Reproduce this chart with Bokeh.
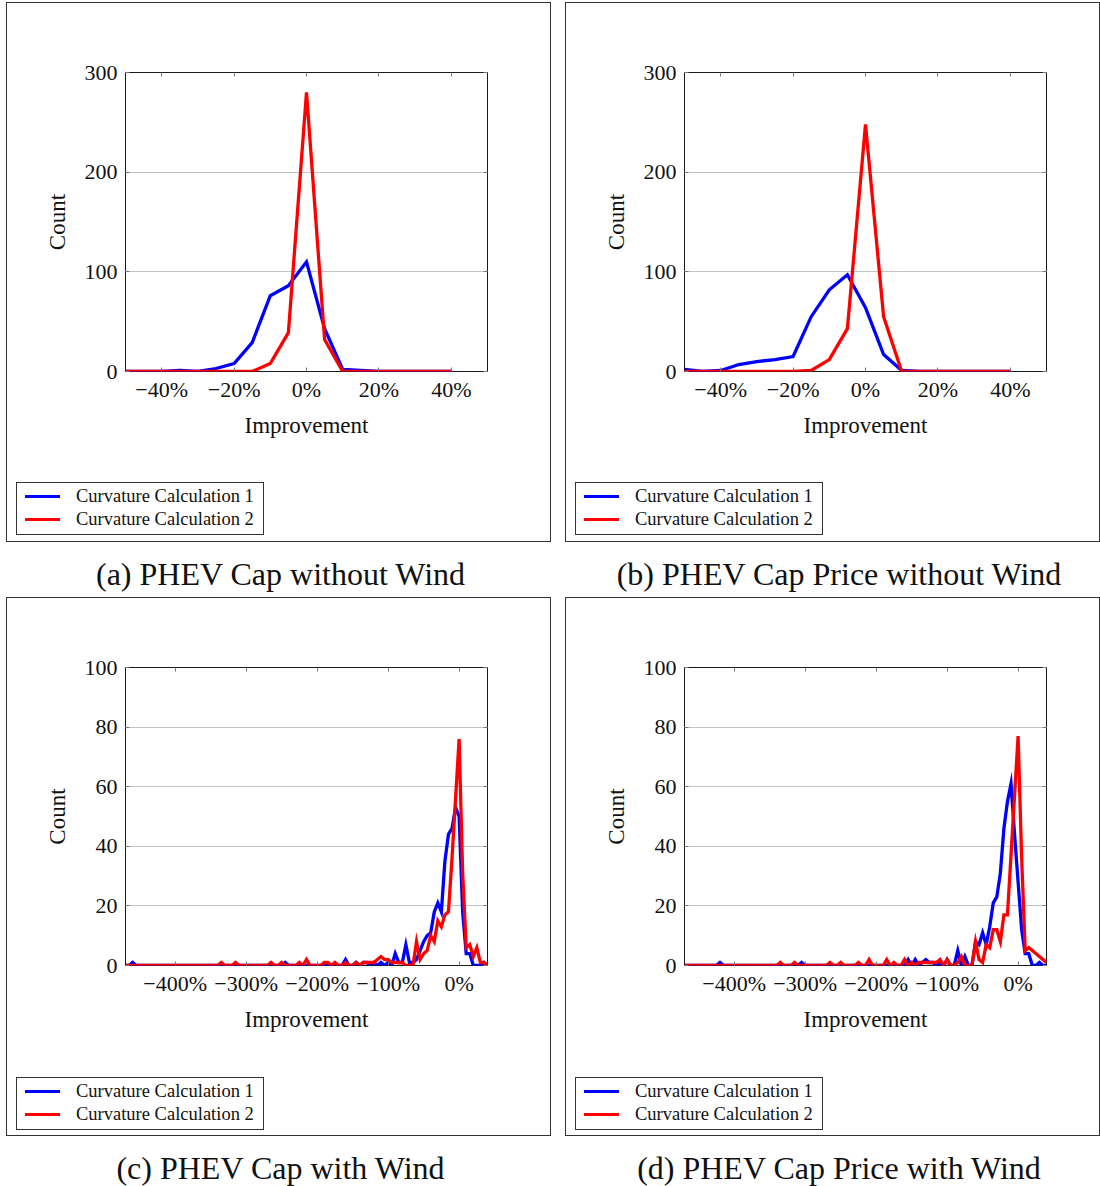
from bokeh.layouts import column, row
from bokeh.models import (CustomJSTickFormatter, Div, FixedTicker, LinearAxis, Range1d, Spacer)
from bokeh.plotting import figure
from bokeh.embed import file_html
from bokeh.resources import INLINE

SERIF = "Liberation Serif"
BLUE = "#0000ff"
RED = "#ff0000"
EDGE = "#333333"

# ---- improvement histograms, runs without wind (bins in %) ----
bins_no_wind = [-50, -45, -40, -35, -30, -25, -20, -15, -10, -5, 0, 5, 10, 15, 20, 25, 30, 35, 40]
cap_nowind_curv1 = [0, 0, 0, 1, 0, 3, 8, 29, 76, 86, 110, 43, 2, 1, 0, 0, 0, 0, 0]
cap_nowind_curv2 = [0, 0, 0, 0, 0, 0, 0, 0, 8, 39, 280, 32, 0, 0, 0, 0, 0, 0, 0]
price_nowind_curv1 = [2, 0, 1, 7, 10, 12, 15, 55, 82, 97, 64, 17, 1, 0, 0, 0, 0, 0, 0]
price_nowind_curv2 = [0, 0, 0, 0, 0, 0, 0, 1, 12, 43, 248, 55, 0, 0, 0, 0, 0, 0, 0]

# ---- improvement histograms, runs with wind (bins in %) ----
bins_wind = [
    -470, -465, -460, -455, -450, -445, -440, -435, -430, -425,
    -420, -415, -410, -405, -400, -395, -390, -385, -380, -375,
    -370, -365, -360, -355, -350, -345, -340, -335, -330, -325,
    -320, -315, -310, -305, -300, -295, -290, -285, -280, -275,
    -270, -265, -260, -255, -250, -245, -240, -235, -230, -225,
    -220, -215, -210, -205, -200, -195, -190, -185, -180, -175,
    -170, -165, -160, -155, -150, -145, -140, -135, -130, -125,
    -120, -115, -110, -105, -100, -95, -90, -85, -80, -75,
    -70, -65, -60, -55, -50, -45, -40, -35, -30, -25,
    -20, -15, -10, -5, 0, 5, 10, 15, 20, 25,
    30, 35, 40,
]
cap_wind_curv1 = [
    0, 0, 1, 0, 0, 0, 0, 0, 0, 0,
    0, 0, 0, 0, 0, 0, 0, 0, 0, 0,
    0, 0, 0, 0, 0, 0, 0, 0, 0, 0,
    0, 0, 0, 0, 0, 0, 0, 0, 0, 0,
    0, 0, 0, 0, 0, 1, 0, 0, 0, 0,
    0, 0, 0, 0, 0, 0, 0, 0, 0, 0,
    0, 0, 2, 0, 0, 1, 0, 1, 1, 0,
    1, 0, 1, 0, 1, 0, 4, 1, 1, 7,
    1, 1, 2, 5, 8, 10, 11, 18, 21, 18,
    35, 44, 46, 53, 50, 18, 4, 4, 0, 0,
    0, 1, 0,
]
cap_wind_curv2 = [
    0, 0, 0, 0, 0, 0, 0, 0, 0, 0,
    0, 0, 0, 0, 0, 0, 0, 0, 0, 0,
    0, 0, 0, 0, 0, 0, 0, 1, 0, 0,
    0, 1, 0, 0, 0, 0, 0, 0, 0, 0,
    0, 1, 0, 0, 1, 0, 0, 0, 0, 1,
    0, 2, 0, 0, 0, 0, 1, 1, 0, 1,
    0, 0, 1, 0, 0, 1, 0, 1, 1, 1,
    1, 2, 3, 2, 2, 1, 1, 1, 1, 0,
    0, 0, 8, 2, 4, 5, 10, 8, 15, 13,
    17, 18, 36, 56, 76, 31, 6, 7, 3, 6,
    1, 1, 0,
]
price_wind_curv1 = [
    0, 0, 0, 0, 0, 0, 0, 0, 0, 0,
    1, 0, 0, 0, 0, 0, 0, 0, 0, 0,
    0, 0, 0, 0, 0, 0, 0, 0, 0, 0,
    0, 0, 0, 1, 0, 0, 0, 0, 0, 0,
    0, 0, 0, 0, 0, 0, 0, 0, 0, 0,
    0, 0, 0, 0, 0, 0, 0, 0, 0, 0,
    0, 0, 0, 2, 0, 2, 0, 1, 2, 1,
    1, 0, 1, 0, 2, 0, 0, 5, 0, 3,
    0, 0, 8, 7, 11, 7, 13, 21, 23, 31,
    46, 55, 61, 44, 28, 12, 4, 4, 0, 0,
    1, 0, 0,
]
price_wind_curv2 = [
    0, 0, 0, 0, 0, 0, 0, 0, 0, 0,
    0, 0, 0, 0, 0, 0, 0, 0, 0, 0,
    0, 0, 0, 0, 0, 0, 0, 1, 0, 0,
    0, 1, 0, 0, 0, 0, 0, 0, 0, 0,
    0, 1, 0, 0, 1, 0, 0, 0, 0, 1,
    0, 0, 2, 0, 0, 0, 0, 2, 0, 1,
    0, 0, 2, 0, 1, 0, 1, 1, 1, 1,
    1, 1, 2, 0, 2, 0, 0, 1, 3, 0,
    0, 0, 8, 2, 1, 7, 6, 12, 12, 8,
    17, 17, 37, 57, 77, 36, 5, 6, 5, 4,
    3, 2, 1,
]

ticks_no_wind = [-40, -20, 0, 20, 40]
ticks_wind = [-400, -300, -200, -100, 0]
yticks_no_wind = [0, 100, 200, 300]
yticks_wind = [0, 20, 40, 60, 80, 100]

series_labels = ["Curvature Calculation 1", "Curvature Calculation 2"]
series_colors = [BLUE, RED]
captions = [
    "(a) PHEV Cap without Wind",
    "(b) PHEV Cap Price without Wind",
    "(c) PHEV Cap with Wind",
    "(d) PHEV Cap Price with Wind",
]

PCT = CustomJSTickFormatter(code="""
    const v = Math.round(tick);
    return (v < 0 ? "\\u2212" + (-v) : "" + v) + "%";
""")
BLANK = CustomJSTickFormatter(code="return '';")


def style_axis(ax, ticks, labels=True):
    ax.ticker = FixedTicker(ticks=ticks)
    ax.axis_line_color = None
    ax.major_tick_in = 4
    ax.major_tick_out = 0
    ax.major_tick_line_color = "#7a7a7a"
    ax.minor_tick_line_color = None
    if not labels:
        ax.formatter = BLANK
        ax.major_label_text_font_size = "1px"


def plot(x, s1, s2, xr, xticks, yr, yticks, frame_h, right_b):
    p = figure(frame_width=362, frame_height=frame_h,
               x_range=Range1d(*xr), y_range=Range1d(*yr),
               min_border_left=118, min_border_right=right_b,
               min_border_top=69, min_border_bottom=101,
               output_backend="svg", toolbar_location=None, tools="")
    p.background_fill_color = "white"
    p.border_fill_color = "white"
    p.outline_line_color = "#1a1a1a"
    p.outline_line_width = 1

    p.xgrid.visible = False
    p.ygrid.ticker = FixedTicker(ticks=yticks)
    p.ygrid.grid_line_color = "#c4c4c4"
    p.ygrid.grid_line_width = 1

    xa = p.xaxis[0]
    style_axis(xa, xticks)
    xa.formatter = PCT
    xa.major_label_text_font = SERIF
    xa.major_label_text_font_size = "22px"
    xa.major_label_text_color = "#111111"
    xa.major_label_standoff = 5
    xa.axis_label = "Improvement"
    xa.axis_label_text_font = SERIF
    xa.axis_label_text_font_size = "23px"
    xa.axis_label_text_font_style = "normal"
    xa.axis_label_text_color = "#111111"
    xa.axis_label_standoff = 8

    ya = p.yaxis[0]
    style_axis(ya, yticks)
    ya.major_label_text_font = SERIF
    ya.major_label_text_font_size = "22px"
    ya.major_label_text_color = "#111111"
    ya.major_label_standoff = 8
    ya.axis_label = "Count"
    ya.axis_label_text_font = SERIF
    ya.axis_label_text_font_size = "23px"
    ya.axis_label_text_font_style = "normal"
    ya.axis_label_text_color = "#111111"
    ya.axis_label_standoff = 12

    top = LinearAxis()
    style_axis(top, xticks, labels=False)
    p.add_layout(top, "above")
    right = LinearAxis()
    style_axis(right, yticks, labels=False)
    p.add_layout(right, "right")

    p.line(x, s1, color=series_colors[0], line_width=3.3, line_join="miter")
    p.line(x, s2, color=series_colors[1], line_width=3.3, line_join="miter")
    return p


def legend_div(width, top_gap):
    rows = []
    for i, (lab, col) in enumerate(zip(series_labels, series_colors)):
        y = 12 + 23 * i
        rows.append(
            f'<div style="position:absolute; left:8px; top:{y}px; width:35px; height:3px; '
            f'background:{col};"></div>'
            f'<div style="position:absolute; left:59px; top:{y - 10}px; line-height:22px; '
            f'white-space:nowrap;">{lab}</div>')
    html = (f'<div style="position:relative; margin-left:9px; margin-top:{top_gap}px; '
            'width:248px; height:53px; border:1px solid #333333; background:#ffffff; '
            "font-family:'Liberation Serif', serif; font-size:18.5px; color:#111111;\">"
            + "".join(rows) + '</div>')
    return Div(text=html, width=width, height=69, margin=0)


def caption_div(text, width, height, pad_left):
    html = ('<div style="box-sizing: border-box; font-family: \'Liberation Serif\', serif; '
            f'font-size: 32px; color: #111111; text-align: center; white-space: nowrap; '
            f'width: {width}px; line-height: 36px; padding-top: 14px; padding-left: {pad_left}px;">'
            f'{text}</div>')
    return Div(text=html, width=width, height=height, margin=0)


def edge(width, height):
    return Spacer(width=width, height=height, margin=0,
                  styles={"background-color": EDGE})


def panel(p, inner_w, inner_h, top_gap):
    body = column(p, legend_div(inner_w, top_gap))
    return column(edge(inner_w + 2, 1),
                  row(edge(1, inner_h), body, edge(1, inner_h)),
                  edge(inner_w + 2, 1))


pa = plot(bins_no_wind, cap_nowind_curv1, cap_nowind_curv2, (-50, 50), ticks_no_wind,
          (0, 300), yticks_no_wind, 299, 63)
pb = plot(bins_no_wind, price_nowind_curv1, price_nowind_curv2, (-50, 50), ticks_no_wind,
          (0, 300), yticks_no_wind, 299, 53)
pc = plot(bins_wind, cap_wind_curv1, cap_wind_curv2, (-470, 40), ticks_wind,
          (0, 100), yticks_wind, 298, 63)
pd = plot(bins_wind, price_wind_curv1, price_wind_curv2, (-470, 40), ticks_wind,
          (0, 100), yticks_wind, 298, 53)

layout = column(
    Spacer(width=1100, height=2, margin=0),
    row(Spacer(width=6, height=540, margin=0), panel(pa, 543, 538, 10),
        Spacer(width=14, height=540, margin=0), panel(pb, 533, 538, 10)),
    row(caption_div(captions[0], 561, 55, 0), caption_div(captions[1], 539, 55, 17)),
    row(Spacer(width=6, height=539, margin=0), panel(pc, 543, 537, 11),
        Spacer(width=14, height=539, margin=0), panel(pd, 533, 537, 11)),
    row(caption_div(captions[2], 561, 50, 0), caption_div(captions[3], 539, 50, 17)),
)
open("out.html", "w").write(file_html(layout, INLINE))
